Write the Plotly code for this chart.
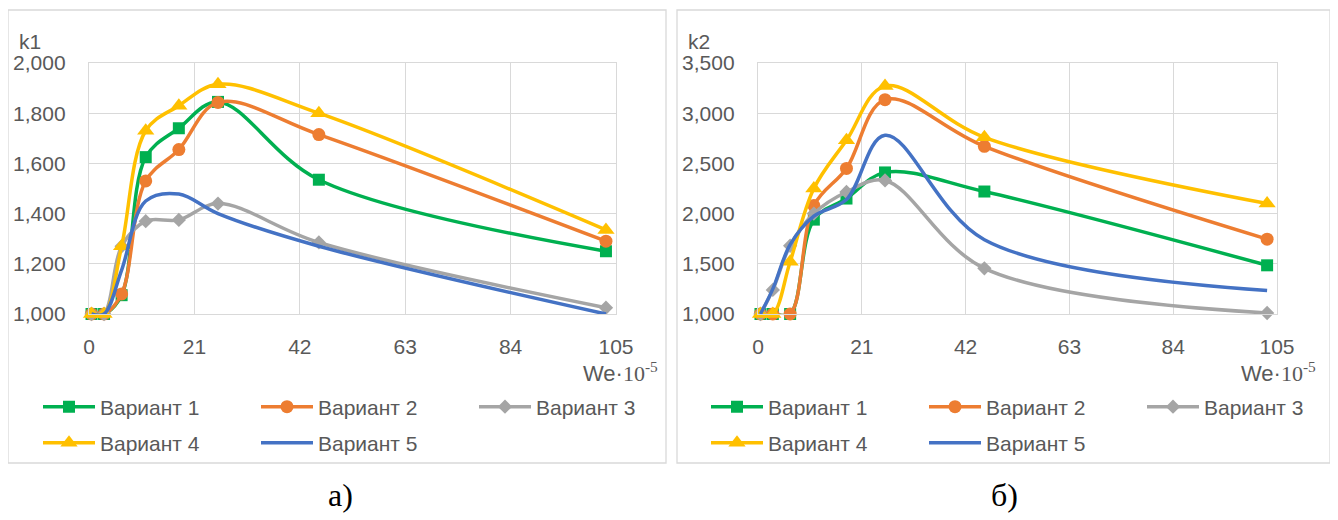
import plotly.graph_objects as go

W, H = 1338, 520
OX, OY = 8, 8  # page body margin offset

# ---- data ----
we = [0.5, 3, 6.5, 11.3, 17.9, 25.7, 45.8, 103]
names = ["Вариант 1", "Вариант 2", "Вариант 3", "Вариант 4", "Вариант 5"]
k1_v1 = [1000, 1000, 1075, 1625, 1740, 1845, 1535, 1250]
k1_v2 = [1000, 1000, 1080, 1530, 1655, 1843, 1715, 1290]
k1_v3 = [1000, 1000, 1270, 1370, 1375, 1440, 1285, 1025]
k1_v4 = [1000, 1000, 1270, 1730, 1830, 1915, 1800, 1335]
k1_v5 = [1000, 1000, 1175, 1450, 1478, 1400, 1270, 1000]
k2_v1 = [1000, 1000, 1000, 1940, 2150, 2410, 2220, 1485]
k2_v2 = [1000, 1000, 1000, 2080, 2450, 3135, 2670, 1745]
k2_v3 = [1000, 1240, 1680, 2000, 2215, 2330, 1455, 1010]
k2_v4 = [1000, 1000, 1520, 2250, 2730, 3270, 2760, 2100]
k2_v5 = [1000, 1250, 1690, 1975, 2140, 2780, 1740, 1235]
x_ticks = [0, 21, 42, 63, 84, 105]
k1_ticks = [1000, 1200, 1400, 1600, 1800, 2000]
k2_ticks = [1000, 1500, 2000, 2500, 3000, 3500]

# ---- styles ----
colors = ["#00B050", "#ED7D31", "#A5A5A5", "#FFC000", "#4472C4"]
symbols = ["square", "circle", "diamond", "triangle-up", None]
msizes = [12, 13, 11, 15, 0]
FONT = "Liberation Sans"
TXT = "#595959"
GRID = "#D9D9D9"


def px(x):
    return (x - OX) / W


def py(y):
    return 1 - (y - OY) / H


fig = go.Figure()

k1_series = [k1_v1, k1_v2, k1_v3, k1_v4, k1_v5]
k2_series = [k2_v1, k2_v2, k2_v3, k2_v4, k2_v5]

for chart, series in enumerate([k1_series, k2_series]):
    xa = "x" if chart == 0 else "x2"
    ya = "y" if chart == 0 else "y2"
    for i, (nm, vals) in enumerate(zip(names, series)):
        leg_row = 0 if i < 3 else 1
        leg_idx = chart * 2 + leg_row
        legname = "legend" if leg_idx == 0 else f"legend{leg_idx + 1}"
        mode = "lines+markers" if symbols[i] else "lines"
        kw = {}
        if symbols[i]:
            kw["marker"] = dict(symbol=symbols[i], size=msizes[i], color=colors[i],
                                line=dict(width=0))
        fig.add_trace(go.Scatter(
            x=we, y=vals, name=nm, mode=mode, xaxis=xa, yaxis=ya,
            line=dict(color=colors[i], width=3.5, shape="spline", smoothing=1.0),
            cliponaxis=False, legend=legname, **kw))

axis_common = dict(
    showgrid=True, gridcolor=GRID, gridwidth=1.3,
    showline=True, linecolor=GRID, linewidth=1.3, mirror=True,
    zeroline=False, ticks="",
    tickfont=dict(family=FONT, size=21, color=TXT),
)

fig.update_layout(
    width=W, height=H,
    margin=dict(l=0, r=0, t=0, b=0, autoexpand=False),
    paper_bgcolor="white", plot_bgcolor="white",
    font=dict(family=FONT, size=21, color=TXT),
    xaxis=dict(domain=[px(89), px(616)], range=[0, 105], tickvals=x_ticks,
               ticklabelstandoff=14, anchor="y", **axis_common),
    yaxis=dict(domain=[py(314), py(63)], range=[1000, 2000], tickvals=k1_ticks,
               tickformat=",", ticklabelstandoff=18, anchor="x", **axis_common),
    xaxis2=dict(domain=[px(758), px(1277)], range=[0, 105], tickvals=x_ticks,
                ticklabelstandoff=14, anchor="y2", **axis_common),
    yaxis2=dict(domain=[py(314), py(63)], range=[1000, 3500], tickvals=k2_ticks,
                tickformat=",", ticklabelstandoff=18, anchor="x2", **axis_common),
    showlegend=True,
)

leg_common = dict(orientation="h", xanchor="left", yanchor="middle",
                  bgcolor="rgba(0,0,0,0)", borderwidth=0,
                  font=dict(family=FONT, size=21, color=TXT),
                  entrywidth=151, entrywidthmode="pixels", itemwidth=52,
                  tracegroupgap=0)
fig.update_layout(
    legend=dict(x=px(38), y=py(407), **leg_common),
    legend2=dict(x=px(38), y=py(443), **leg_common),
    legend3=dict(x=px(706), y=py(407), **leg_common),
    legend4=dict(x=px(706), y=py(443), **leg_common),
)

ann = []
ann.append(dict(text="k1", x=px(17), y=py(41), xref="paper", yref="paper",
                xanchor="left", yanchor="middle", showarrow=False,
                font=dict(family=FONT, size=21, color=TXT)))
ann.append(dict(text="k2", x=px(686), y=py(41), xref="paper", yref="paper",
                xanchor="left", yanchor="middle", showarrow=False,
                font=dict(family=FONT, size=21, color=TXT)))
we_label = "We·<span style='font-family:Liberation Serif'>10<sup>-5</sup></span>"
ann.append(dict(text=we_label, x=px(660), y=py(372), xref="paper", yref="paper",
                xanchor="right", yanchor="middle", showarrow=False,
                font=dict(family=FONT, size=22, color=TXT)))
ann.append(dict(text=we_label, x=px(1318), y=py(372), xref="paper", yref="paper",
                xanchor="right", yanchor="middle", showarrow=False,
                font=dict(family=FONT, size=22, color=TXT)))
ann.append(dict(text="а)", x=px(340), y=py(495), xref="paper", yref="paper",
                xanchor="center", yanchor="middle", showarrow=False,
                font=dict(family="Liberation Serif", size=32, color="black")))
ann.append(dict(text="б)", x=px(1004), y=py(495), xref="paper", yref="paper",
                xanchor="center", yanchor="middle", showarrow=False,
                font=dict(family="Liberation Serif", size=32, color="black")))
fig.update_layout(annotations=ann)

shapes = [
    dict(type="rect", xref="paper", yref="paper", x0=px(8), x1=px(666),
         y0=py(463), y1=py(10), line=dict(color=GRID, width=1.3)),
    dict(type="rect", xref="paper", yref="paper", x0=px(677), x1=px(1330),
         y0=py(463), y1=py(10), line=dict(color=GRID, width=1.3)),
]
fig.update_layout(shapes=shapes)

fig.write_html("out.html")
